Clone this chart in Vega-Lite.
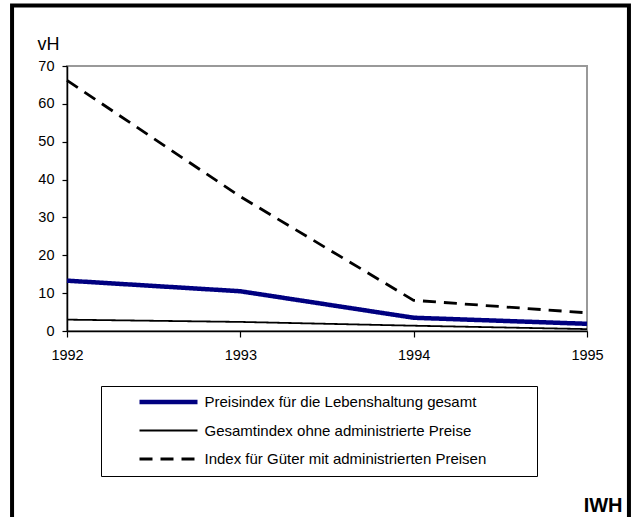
{
  "$schema": "https://vega.github.io/schema/vega-lite/v6.json",
  "width": 520,
  "height": 265,
  "autosize": {"type": "none"},
  "padding": {"left": 67, "top": 66, "right": 45, "bottom": 186},
  "background": "white",
  "config": {
    "font": "Liberation Sans",
    "view": {"stroke": "#999999", "strokeWidth": 2},
    "axis": {"grid": false, "domainColor": "black", "domainWidth": 1.5, "tickColor": "black", "tickWidth": 1.2, "labelColor": "black", "labelFont": "Liberation Sans", "labelFontSize": 14.5, "labelOverlap": false},
    "legend": {
      "orient": "none", "legendX": 34, "legendY": 320,
      "strokeColor": "black", "fillColor": "white", "padding": 8.5,
      "symbolType": "stroke", "symbolSize": 3364, "symbolOffset": 29, "clipHeight": 15,
      "labelFont": "Liberation Sans", "labelFontSize": 15, "labelColor": "black",
      "labelOffset": 6, "rowPadding": 12.5, "labelLimit": 500,
      "titleOrient": "right", "titlePadding": 42, "titleFontSize": 11
    }
  },
  "datasets": {
    "series": [
      {"year": 1992, "series": "Preisindex für die Lebenshaltung gesamt", "value": 13.3},
      {"year": 1993, "series": "Preisindex für die Lebenshaltung gesamt", "value": 10.5},
      {"year": 1994, "series": "Preisindex für die Lebenshaltung gesamt", "value": 3.5},
      {"year": 1995, "series": "Preisindex für die Lebenshaltung gesamt", "value": 1.9},
      {"year": 1992, "series": "Gesamtindex ohne administrierte Preise", "value": 3.0},
      {"year": 1993, "series": "Gesamtindex ohne administrierte Preise", "value": 2.4},
      {"year": 1994, "series": "Gesamtindex ohne administrierte Preise", "value": 1.4},
      {"year": 1995, "series": "Gesamtindex ohne administrierte Preise", "value": 0.5},
      {"year": 1992, "series": "Index für Güter mit administrierten Preisen", "value": 66.2},
      {"year": 1993, "series": "Index für Güter mit administrierten Preisen", "value": 35.5},
      {"year": 1994, "series": "Index für Güter mit administrierten Preisen", "value": 8.1},
      {"year": 1995, "series": "Index für Güter mit administrierten Preisen", "value": 4.8}
    ],
    "frame": [{"label": "IWH"}]
  },
  "layer": [
    {
      "data": {"name": "series"},
      "mark": {"type": "line", "clip": false},
      "encoding": {
        "x": {
          "field": "year", "type": "quantitative",
          "scale": {"domain": [1992, 1995], "nice": false, "zero": false},
          "axis": {"title": null, "values": [1992, 1993, 1994, 1995], "format": "d", "tickSize": 6, "labelPadding": 11, "labelFlush": false, "labelOverlap": false}
        },
        "y": {
          "field": "value", "type": "quantitative",
          "scale": {"domain": [0, 70], "nice": false},
          "axis": {"title": "vH", "values": [0, 10, 20, 30, 40, 50, 60, 70], "tickCount": 8, "tickSize": 5, "labelPadding": 8, "labelOverlap": false, "labelFlush": false, "labelBound": false, "labelSeparation": 0,
                   "titleAngle": 0, "titleAlign": "left", "titleBaseline": "alphabetic", "titleX": -30, "titleY": -17,
                   "titleFontSize": 18, "titleFontWeight": "normal", "titleColor": "black", "titleFont": "Liberation Sans"}
        },
        "color": {
          "field": "series", "type": "nominal",
          "scale": {"domain": ["Preisindex für die Lebenshaltung gesamt", "Gesamtindex ohne administrierte Preise", "Index für Güter mit administrierten Preisen"], "range": ["#000080", "#000000", "#000000"]},
          "legend": {
            "title": " ",
            "encode": {"symbols": {"update": {"strokeWidth": {"signal": "(datum.value === 'Preisindex für die Lebenshaltung gesamt' ? 4.5 : (datum.value === 'Index für Güter mit administrierten Preisen' ? 2.8 : 1.8))"}}}}
          }
        },
        "strokeDash": {
          "field": "series", "type": "nominal",
          "scale": {"domain": ["Preisindex für die Lebenshaltung gesamt", "Gesamtindex ohne administrierte Preise", "Index für Güter mit administrierten Preisen"], "range": [[1, 0], [1, 0], [13, 8]]},
          "legend": {"title": " "}
        },
        "strokeWidth": {
          "condition": [
            {"test": "datum.series === 'Preisindex für die Lebenshaltung gesamt'", "value": 4.5},
            {"test": "datum.series === 'Index für Güter mit administrierten Preisen'", "value": 2.8}
          ],
          "value": 1.8
        }
      }
    },
    {
      "data": {"name": "frame"},
      "mark": {"type": "rect", "fill": null, "stroke": "black", "strokeWidth": 4, "clip": false},
      "encoding": {
        "x": {"datum": 1991.683, "type": "quantitative"},
        "x2": {"datum": 1995.242},
        "y": {"datum": 86, "type": "quantitative"},
        "y2": {"datum": -50}
      }
    },
    {
      "data": {"name": "frame"},
      "mark": {"type": "text", "align": "right", "baseline": "alphabetic", "fontWeight": "bold", "fontSize": 20, "font": "Liberation Sans", "color": "black", "clip": false},
      "encoding": {
        "x": {"datum": 1995.205, "type": "quantitative"},
        "y": {"datum": -47.8, "type": "quantitative"},
        "text": {"field": "label"}
      }
    }
  ]
}
